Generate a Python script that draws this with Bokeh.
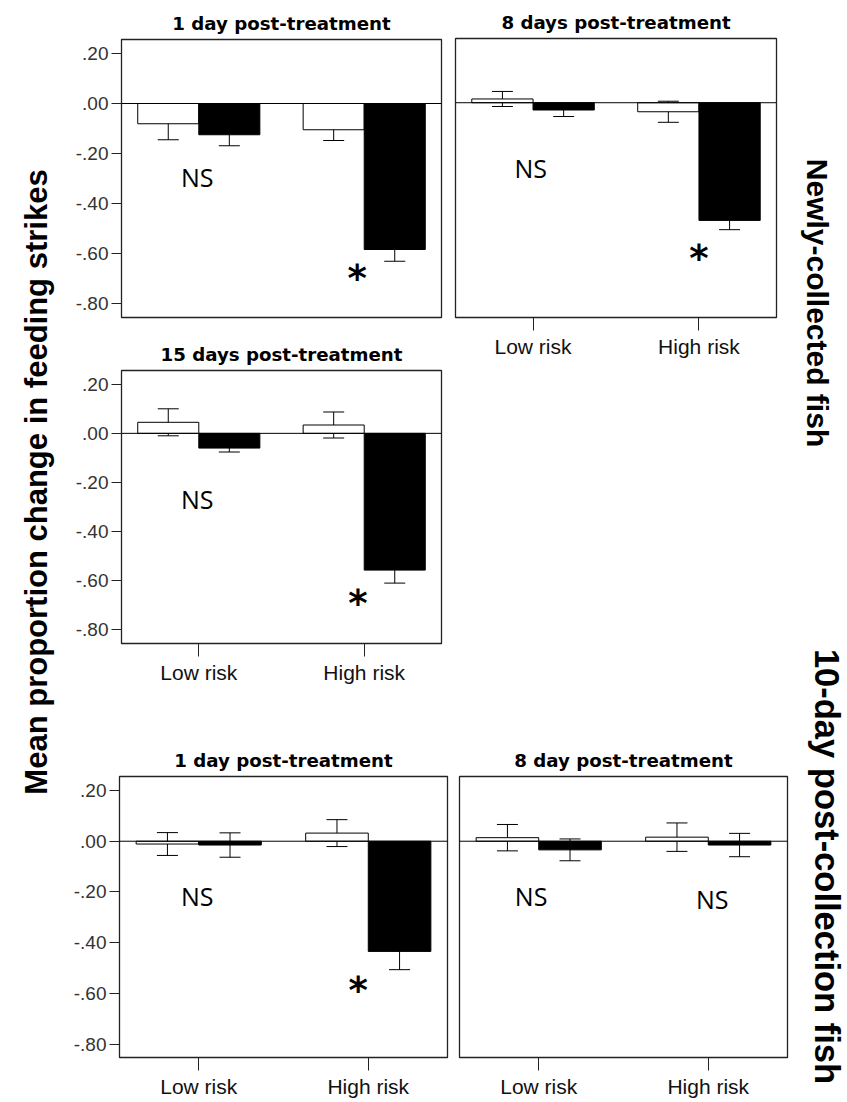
import math
from bokeh.plotting import figure
from bokeh.models import (FactorRange, Range1d, ColumnDataSource, Whisker, TeeHead, Span,
                          FixedTicker, CustomJSTickFormatter, Label, Spacer)
from bokeh.layouts import row, column
from bokeh.transform import dodge
from bokeh.core.properties import value
from bokeh.embed import file_html
from bokeh.resources import INLINE

# ---------------- data ----------------
categories = ["Low risk", "High risk"]
y_ticks = [0.2, 0.0, -0.2, -0.4, -0.6, -0.8]
y_tick_labels = [".20", ".00", "-.20", "-.40", "-.60", "-.80"]

y_title = "Mean proportion change in feeding strikes"
group_top = "Newly-collected fish"
group_bottom = "10-day post-collection fish"

# Newly-collected fish, 1 day post-treatment
a_title = "1 day post-treatment"
a_white_mean = [-0.081, -0.105]
a_white_se = [0.064, 0.043]
a_black_mean = [-0.125, -0.584]
a_black_se = [0.044, 0.047]
a_sig = ["NS", "*"]
a_sig_y = [-0.295, -0.668]

# Newly-collected fish, 8 days post-treatment
b_title = "8 days post-treatment"
b_white_mean = [0.015, -0.036]
b_white_se = [0.030, 0.042]
b_black_mean = [-0.029, -0.469]
b_black_se = [0.026, 0.037]
b_sig = ["NS", "*"]
b_sig_y = [-0.262, -0.590]

# Newly-collected fish, 15 days post-treatment
c_title = "15 days post-treatment"
c_white_mean = [0.045, 0.034]
c_white_se = [0.055, 0.053]
c_black_mean = [-0.060, -0.557]
c_black_se = [0.016, 0.053]
c_sig = ["NS", "*"]
c_sig_y = [-0.267, -0.660]

# 10-day post-collection fish, 1 day post-treatment
d_title = "1 day post-treatment"
d_white_mean = [-0.011, 0.032]
d_white_se = [0.045, 0.053]
d_black_mean = [-0.015, -0.434]
d_black_se = [0.048, 0.072]
d_sig = ["NS", "*"]
d_sig_y = [-0.216, -0.555]

# 10-day post-collection fish, 8 day post-treatment
e_title = "8 day post-treatment"
e_white_mean = [0.014, 0.016]
e_white_se = [0.052, 0.056]
e_black_mean = [-0.034, -0.015]
e_black_se = [0.043, 0.046]
e_sig = ["NS", "NS"]
e_sig_y = [-0.216, -0.227]

# ---------------- styling helpers ----------------
Y_RANGE_TOP = (-0.856, 0.256)
Y_RANGE_BOTTOM = (-0.852, 0.255)
FACTOR_PAD = 0.07
BAR_W = 0.395
TICK_FMT = """
for (let i = 0; i < tv.length; i++) {
  if (Math.abs(tick - tv[i]) < 1e-9) { return tl[i]; }
}
return "";
"""


def panel(title, wm, ws, bm, bs, sig, sig_y, sig_dx, yr, width, height,
          bl, br, bt, bb, show_x, show_y):
    xr = FactorRange(*categories, factor_padding=FACTOR_PAD)
    p = figure(x_range=xr, y_range=Range1d(*yr), width=width, height=height,
               output_backend="svg", toolbar_location=None,
               x_axis_location="below" if show_x else None,
               y_axis_location="left" if show_y else None,
               min_border_left=bl, min_border_right=br,
               min_border_top=bt, min_border_bottom=bb, title=title)
    p.background_fill_color = "white"
    p.border_fill_color = "white"
    p.outline_line_color = "#222222"
    p.outline_line_width = 1.3
    p.outline_line_alpha = 1.0
    p.xgrid.visible = False
    p.ygrid.visible = False

    p.title.align = "center"
    p.title.text_font = "DejaVu Sans"
    p.title.text_font_style = "bold"
    p.title.text_font_size = "18.2px"
    p.title.text_color = "black"
    p.title.standoff = 12

    src = ColumnDataSource(dict(
        risk=categories, white=wm, black=bm,
        w_lo=[m - s for m, s in zip(wm, ws)], w_hi=[m + s for m, s in zip(wm, ws)],
        b_lo=[m - s for m, s in zip(bm, bs)], b_hi=[m + s for m, s in zip(bm, bs)],
    ))
    half = BAR_W / 2
    p.vbar(x=dodge("risk", -half, range=xr), top="white", bottom=0, width=BAR_W,
           source=src, fill_color="white", line_color="black", line_width=1)
    p.vbar(x=dodge("risk", half, range=xr), top="black", bottom=0, width=BAR_W,
           source=src, fill_color="black", line_color="black", line_width=1)

    for off, lo, hi in ((-half, "w_lo", "w_hi"), (half, "b_lo", "b_hi")):
        wk = Whisker(base=dodge("risk", off, range=xr), lower=lo, upper=hi, source=src,
                     line_color="black", line_width=1,
                     upper_head=TeeHead(size=21, line_color="black", line_width=1),
                     lower_head=TeeHead(size=21, line_color="black", line_width=1))
        p.add_layout(wk)

    p.add_layout(Span(location=0, dimension="width", line_color="black", line_width=1))

    for cat, txt, yy, dx in zip(categories, sig, sig_y, sig_dx):
        s = ColumnDataSource(dict(x=[cat], y=[yy], t=[txt]))
        if txt == "*":
            p.text(x=dodge("x", dx, range=xr), y="y", text="t", source=s,
                   text_font=value("DejaVu Sans"), text_font_style="bold",
                   text_font_size="37px", text_align="center", text_baseline="middle",
                   y_offset=8, text_color="black")
        else:
            p.text(x=dodge("x", dx, range=xr), y="y", text="t", source=s,
                   text_font=value("Open Sans"), text_font_size="25px",
                   text_align="center", text_baseline="middle", text_color="black")

    if show_y:
        ax = p.yaxis[0]
        ax.ticker = FixedTicker(ticks=y_ticks)
        ax.formatter = CustomJSTickFormatter(args=dict(tv=y_ticks, tl=y_tick_labels),
                                             code=TICK_FMT)
        ax.major_tick_out = 10
        ax.major_tick_in = 0
        ax.minor_tick_out = 0
        ax.minor_tick_in = 0
        ax.axis_line_color = "#222222"
        ax.major_tick_line_color = "#222222"
        ax.major_label_text_font = "Liberation Sans"
        ax.major_label_text_font_size = "19px"
        ax.major_label_text_color = "#333333"
        ax.major_label_standoff = 3
    if show_x:
        ax = p.xaxis[0]
        ax.major_tick_out = 13
        ax.major_tick_in = 0
        ax.axis_line_color = "#222222"
        ax.major_tick_line_color = "#222222"
        ax.major_label_text_font = "Liberation Sans"
        ax.major_label_text_font_size = "21px"
        ax.major_label_text_color = "#111111"
        ax.major_label_standoff = 4
    return p


# panels (sizes in px; frames positioned through borders)
p1 = panel(a_title, a_white_mean, a_white_se, a_black_mean, a_black_se, a_sig, a_sig_y,
           [-0.01, -0.045], Y_RANGE_TOP, 386, 335, 59, 7, 39, 18, False, True)
p3 = panel(c_title, c_white_mean, c_white_se, c_black_mean, c_black_se, c_sig, c_sig_y,
           [-0.01, -0.04], Y_RANGE_TOP, 386, 360, 59, 7, 29, 52, True, True)
p2 = panel(b_title, b_white_mean, b_white_se, b_black_mean, b_black_se, b_sig, b_sig_y,
           [-0.015, 0.0], Y_RANGE_TOP, 344, 369, 7, 16, 38, 52, True, False)
p4 = panel(d_title, d_white_mean, d_white_se, d_black_mean, d_black_se, d_sig, d_sig_y,
           [-0.01, -0.063], Y_RANGE_BOTTOM, 390, 405, 57, 5, 81, 42, True, True)
p5 = panel(e_title, e_white_mean, e_white_se, e_black_mean, e_black_se, e_sig, e_sig_y,
           [-0.048, 0.025], Y_RANGE_BOTTOM, 340, 405, 7, 5, 81, 42, True, False)

TOTAL_H = 1100


def strip(width):
    s = figure(width=width, height=TOTAL_H, x_range=Range1d(0, width), y_range=Range1d(0, TOTAL_H),
               output_backend="svg", toolbar_location=None, min_border=0,
               x_axis_location=None, y_axis_location=None)
    s.outline_line_color = None
    s.xgrid.visible = False
    s.ygrid.visible = False
    s.background_fill_color = "white"
    s.border_fill_color = "white"
    return s


left = strip(62)
left.add_layout(Label(x=36, y=TOTAL_H - 481.5, text=y_title, angle=math.pi / 2,
                      text_align="center", text_baseline="middle",
                      text_font="Liberation Sans", text_font_style="bold",
                      text_font_size="31px", text_color="black"))

right = strip(53)
right.add_layout(Label(x=25, y=TOTAL_H - 302.5, text=group_top, angle=-math.pi / 2,
                       text_align="center", text_baseline="middle",
                       text_font="Liberation Sans", text_font_style="bold",
                       text_font_size="30px", text_color="black"))
right.add_layout(Label(x=34, y=TOTAL_H - 866, text=group_bottom, angle=-math.pi / 2,
                       text_align="center", text_baseline="middle",
                       text_font="Liberation Sans", text_font_style="bold",
                       text_font_size="34.5px", text_color="black"))

top_block = row(column(p1, p3), column(p2, Spacer(width=344, height=326)))
bottom_block = row(p4, p5)
layout = row(left, column(top_block, bottom_block), right)

open("out.html", "w").write(file_html(layout, INLINE))
